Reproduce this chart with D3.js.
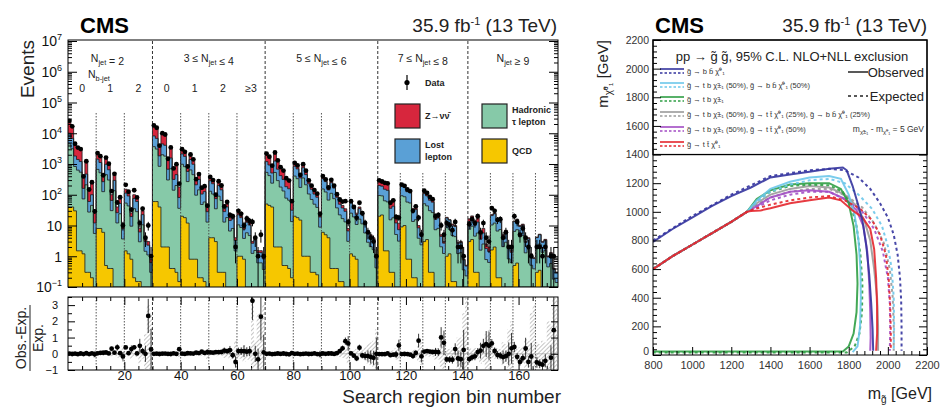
<!DOCTYPE html>
<html><head><meta charset="utf-8">
<script src="https://cdn.jsdelivr.net/npm/d3@7"></script>
<style>
body{margin:0;background:#fff;}
svg{display:block;font-family:"Liberation Sans",Arial,Helvetica,sans-serif;}
</style></head><body>
<svg id="c" width="940" height="407"></svg>
<script>
// ---------- search-region yields (174 bins; rows = N_jet / N_b-jet groups) ----------
const qcd = [
 40,40,30,1.5,1.5,1.2,0.3,0.3,0.2,0.1,
 8,8,6,0.5,0.4,0.4,0.1,0.1,0.1,0.05,
 1.5,1.2,0.8,0.2,0.15,0.15,0.05,0.05,0.05,0.02,
 60,60,40,2,2,2,0.4,0.4,0.3,0.15,
 20,18,12,0.8,0.8,0.8,0.2,0.2,0.15,0.1,
 4,4,3,0.3,0.3,0.3,0.1,0.1,0.1,0.05,
 1,1,0.8,0.1,0.1,0.1,0.04,0.04,0.04,0.02,
 50,45,40,2,2,2,0.5,0.5,0.4,0.2,
 20,18,15,1,1,1,0.3,0.3,0.25,0.1,
 6,5,4,0.4,0.4,0.4,0.15,0.15,0.1,0.05,
 1.2,1,0.8,0.1,0.1,0.1,0.05,0.05,0.04,0.02,
 20,22,1.5,1.5,0.3,0.3,0.1,0.1,
 9,10,0.8,0.8,0.2,0.2,0.05,0.05,
 3,3.5,0.3,0.3,0.08,0.08,0.03,0.03,
 1,1.2,0.15,0.15,0.04,0.04,0.02,0.02,
 3,3.5,0.3,0.3,0.08,0.1,0.03,0.03,
 1.6,2,0.2,0.2,0.05,0.06,0.02,0.02,
 0.5,0.6,0.08,0.08,0.03,0.03,0.01,0.01,
 0.3,0.35,0.05,0.05,0.02,0.02,0.01,0.01
];
const hadTau = [
 4500,3100,800,630,540,72,210,27,45,5.4,
 660,510,120,450,300,30,135,12,24,3.6,
 52,42,8.7,35,28,2.8,10.5,1.4,1.05,0.28,
 3600,3000,800,2000,1800,300,700,140,200,36,
 960,800,256,640,448,96,144,48,58,12.8,
 126,101,32,90,65,12.6,18,6.5,7.9,1.44,
 9.5,7.6,3,5.7,4.6,1.14,1.5,0.57,0.57,0.35,
 484,374,198,528,286,176,132,77,66,13.2,
 385,315,158,350,210,105,70,49,38.5,8.75,
 148,118,63,111,74,37,22,16.6,13,3,
 24,18,10,16,11.2,5.6,2.8,2,1.6,0.4,
 75,70,62,57,15,17.5,5,3,
 84,76,57,53,13.3,15.2,3.8,2.3,
 48,40,30,26,7.2,8,2,1.2,
 7.5,6.3,4.6,4.2,1.18,1.26,0.34,0.21,
 4.5,6,4.2,5.4,1.5,2.4,0.75,0.6,
 8.8,10,6.4,7.2,2,2.8,0.8,0.6,
 5.9,6.7,4.2,4.6,1.26,1.68,0.5,0.38,
 1.72,2.15,1.29,1.5,0.43,0.56,0.17,0.13
];
const lostLep = [
 5500,3700,990,770,660,88,260,33,55,6.6,
 770,600,140,525,350,35,158,14,28,4.2,
 60,48,10,40,32,3.2,12,1.6,1.2,0.32,
 4500,3750,1000,2500,2250,375,875,175,250,45,
 1140,950,304,760,532,114,171,57,68,15.2,
 154,123,39.6,110,79,15.4,22,7.9,9.7,1.76,
 11.75,9.4,3.8,7.05,5.64,1.41,1.88,0.7,0.7,0.45,
 660,510,270,720,390,240,180,105,90,18,
 440,360,180,400,240,120,80,56,44,10,
 180,144,76.5,135,90,45,27,20.3,15.8,3.6,
 28.8,21.6,12,19.2,13.4,6.7,3.36,2.4,1.92,0.48,
 105,98,87.5,80.5,21,24.5,7,4.2,
 99,90,67.5,63,15.75,18,4.5,2.7,
 57.6,48,36,31.2,8.6,9.6,2.4,1.44,
 9,7.5,5.5,5,1.4,1.5,0.4,0.25,
 6,8,5.6,7.2,2,3.2,1,0.8,
 10.6,12,7.7,8.6,2.4,3.4,0.96,0.72,
 7,8,5,5.5,1.5,2,0.6,0.45,
 2,2.5,1.5,1.75,0.5,0.65,0.2,0.15
];
const zinv = [
 15000,10200,2700,2100,1800,240,720,90,150,18,
 760,585,138,525,350,35,157,14,28,4.1,
 37.5,29.6,6.1,24.9,19.9,1.9,7.45,0.95,0.7,0.17,
 9830,8190,2160,5500,4950,820,1920,384,550,98,
 885,738,232,599,419,89,135,45,54,12,
 67,53.5,16.5,49.7,35.7,6.8,9.9,3.5,4.3,0.75,
 3.45,2.7,1.0,2.2,1.71,0.4,0.6,0.21,0.21,0.1,
 996,766,392,1149,621,381,287,167,143,28,
 250,205,97,248,148,73,49,34,27,6,
 64,52,25.5,53.5,35.5,17.5,10.8,7.9,6,1.3,
 6.2,4.6,2.4,4.7,3.3,1.6,0.79,0.55,0.43,0.1,
 100,87,99.5,91,23.7,27.6,7.8,4.6,
 27,22,25,23.2,5.8,6.6,1.6,0.9,
 10.4,7,8.7,7.4,2.1,2.3,0.55,0.31,
 0.9,0.5,0.85,0.74,0.2,0.22,0.05,0.03,
 3,3,4.1,5.2,1.45,2.35,0.72,0.57,
 1.6,1.5,1.85,2.1,0.57,0.77,0.22,0.16,
 0.7,0.7,0.77,0.86,0.23,0.31,0.09,0.06,
 0.18,0.2,0.2,0.24,0.065,0.085,0.027,0.017
];
const observed = [
 25300,16800,4550,3420,3050,395,1230,148,255,29,
 2260,1790,430,1620,1020,132,480,56,83,10,
 210,125,33,140,82,12,35,4,10,1,
 17900,15100,3950,10050,9120,1480,3450,720,990,230,
 3030,2480,830,2040,1420,320,470,170,190,44,
 380,300,100,275,200,42,58,22,20,2,
 30,24,10,17,14,13,4,1,5,1,
 2180,1720,880,2370,1320,790,610,345,290,62,
 1090,905,440,990,605,295,198,142,108,24,
 405,318,172,305,198,104,70,60,62,13,
 62,40,18,55,25,12,6,4,3,1,
 295,270,245,235,55,66,19,18,
 215,195,148,132,30,42,18,5,
 135,115,85,72,20,22,10,5,
 12,10,7,13,2,2,1,0,
 11,16,12,20,6,12,4,3,
 37,30,15,16,4,6,2,2,
 20,13,5,8,4,2,1,0,
 2,2,1,2,0,1,1,0
];
// relative uncertainty of the prediction per bin
const relUnc = [
 0.05,0.05,0.08,0.06,0.06,0.1,0.08,0.15,0.12,0.3,
 0.06,0.06,0.1,0.07,0.08,0.15,0.1,0.25,0.2,0.5,
 0.15,0.15,0.3,0.15,0.2,0.6,0.3,1.2,3,2.5,
 0.05,0.05,0.08,0.05,0.05,0.08,0.07,0.1,0.1,0.2,
 0.06,0.06,0.1,0.07,0.07,0.12,0.1,0.15,0.15,0.3,
 0.1,0.1,0.15,0.1,0.12,0.25,0.2,0.35,0.3,0.8,
 0.3,0.3,0.5,0.35,0.4,3.5,0.8,2.5,2.5,3,
 0.06,0.06,0.08,0.06,0.07,0.08,0.08,0.1,0.1,0.2,
 0.07,0.07,0.1,0.07,0.08,0.1,0.1,0.12,0.15,0.3,
 0.1,0.1,0.12,0.1,0.12,0.15,0.2,0.25,0.3,0.6,
 0.2,0.2,0.3,0.2,0.25,0.4,0.6,0.7,0.8,1.5,
 0.1,0.1,0.1,0.1,0.2,0.2,0.35,0.45,
 0.12,0.12,0.12,0.13,0.25,0.25,0.5,0.7,
 0.15,0.15,0.18,0.18,0.35,0.35,0.8,1.2,
 0.3,0.3,0.4,0.4,1,1,2.5,3.5,
 0.35,0.3,0.35,0.3,0.6,0.5,1.2,1.5,
 0.3,0.3,0.35,0.3,0.7,0.6,1.5,2,
 0.35,0.3,0.4,0.4,0.9,0.8,2.5,3,
 0.7,0.6,0.8,0.7,2,1.8,3.5,4
];
// region boundaries (bin edges) and labels
const njetEdges = [30, 70, 110, 142];
const nbEdgesHigh = [10, 20, 40, 50, 60, 80, 90, 100];
const nbEdgesLow = [118, 126, 134, 150, 158, 166];
const njetLabels = [
 {bin: 14, parts: [["N",0],["jet",1],[" = 2",0]]},
 {bin: 50, parts: [["3 ≤ N",0],["jet",1],[" ≤ 4",0]]},
 {bin: 90, parts: [["5 ≤ N",0],["jet",1],[" ≤ 6",0]]},
 {bin: 126, parts: [["7 ≤ N",0],["jet",1],[" ≤ 8",0]]},
 {bin: 158, parts: [["N",0],["jet",1],[" ≥ 9",0]]}
];
const nbLabels = [["0",5],["1",15],["2",25],["0",35],["1",45],["2",55],["≥3",65]];
const logTicks = [0.1, 1, 10, 1e2, 1e3, 1e4, 1e5, 1e6, 1e7];
const binTicks = [20, 40, 60, 80, 100, 120, 140, 160];
const ratioTicks = [-1, 0, 1, 2, 3];

// ---------- gluino-pair exclusion contours (m_gluino, m_LSP) in GeV ----------
const lowBranch = [[800,600],[900,690],[1000,770],[1100,850],[1200,930],[1280,1000]];
const bbObs = [[800,790],[900,880],[1000,960],[1100,1040],[1200,1110],[1300,1170],[1400,1240],[1500,1260],[1600,1280],[1700,1300],[1770,1310],[1790,1290],[1820,1180],[1850,1040],[1870,940],[1890,760],[1905,560],[1915,360],[1922,180],[1925,30]];
const bbExp = [[800,800],[1000,970],[1200,1120],[1400,1250],[1600,1290],[1700,1300],[1780,1290],[1850,1240],[1910,1160],[1960,1060],[2000,960],[2030,840],[2050,700],[2062,540],[2068,380],[2070,200],[2070,30]];
const tbbbObs = [[1330,1080],[1400,1160],[1500,1210],[1600,1240],[1700,1250],[1760,1230],[1800,1120],[1830,980],[1850,800],[1860,600],[1862,400],[1858,200],[1845,60],[1820,20]];
const tbbbExp = [[1330,1070],[1400,1140],[1500,1190],[1600,1220],[1700,1230],[1780,1200],[1850,1120],[1920,1020],[1970,900],[2000,760],[2020,600],[2030,400],[2032,200],[2030,30]];
const tbObs = [[1330,1090],[1400,1150],[1500,1190],[1600,1200],[1700,1200],[1760,1160],[1800,1060],[1825,900],[1840,700],[1845,500],[1840,300],[1825,150],[1800,60],[1770,25],[800,25]];
const tbExp = [[1330,1080],[1400,1140],[1500,1180],[1600,1190],[1700,1185],[1770,1140],[1810,1050],[1840,900],[1860,700],[1870,500],[1868,300],[1855,150],[1830,60],[1790,18],[800,18]];
const mixObs = [[1330,1060],[1400,1120],[1500,1160],[1600,1180],[1700,1170],[1780,1120],[1840,1040],[1880,940],[1910,800],[1930,600],[1945,400],[1950,200],[1950,30]];
const mixExp = [[1330,1050],[1400,1100],[1500,1140],[1600,1160],[1700,1160],[1790,1110],[1870,1030],[1930,920],[1980,780],[2010,600],[2025,400],[2030,200],[2030,30]];
const tbttObs = [[1330,1040],[1400,1100],[1500,1140],[1600,1150],[1700,1140],[1780,1090],[1840,1010],[1875,900],[1895,720],[1905,500],[1910,300],[1912,120],[1910,30]];
const tbttExp = [[1330,1030],[1400,1080],[1500,1120],[1600,1140],[1700,1140],[1790,1080],[1870,1000],[1930,880],[1975,720],[2000,540],[2010,360],[2012,180],[2010,30]];
const ttObs = [[1300,1005],[1350,1010],[1400,1025],[1500,1060],[1600,1080],[1700,1100],[1760,1080],[1820,1010],[1870,960],[1910,880],[1930,740],[1940,540],[1945,340],[1945,150],[1940,30]];
const ttExp = [[1320,1020],[1400,1050],[1500,1080],[1600,1100],[1700,1110],[1780,1080],[1860,1020],[1920,940],[1960,840],[1990,700],[2005,520],[2012,340],[2015,160],[2015,30]];
const modelLabels = [
 "g̃ → b b̄ χ̃⁰₁",
 "g̃ → t b χ̃±₁ (50%), g̃ → b b̄ χ̃⁰₁ (50%)",
 "g̃ → t b χ̃±₁",
 "g̃ → t b χ̃±₁ (50%), g̃ → t t̄ χ̃⁰₁ (25%), g̃ → b b̄ χ̃⁰₁ (25%)",
 "g̃ → t b χ̃±₁ (50%), g̃ → t t̄ χ̃⁰₁ (50%)",
 "g̃ → t t̄ χ̃⁰₁"
];
const modelColors = ["#34349e", "#6cc7ea", "#2f9e44", "#9a9a9a", "#a24cc4", "#e4262c"];
const mgTicks = [800, 1000, 1200, 1400, 1600, 1800, 2000, 2200];
const mlspTicks = [0, 200, 400, 600, 800, 1000, 1200, 1400, 1600, 1800, 2000, 2200];

// ======================================================================
const svg = d3.select("#c");
const nBins = qcd.length;
const defs = svg.append("defs");
defs.append("clipPath").attr("id","clipMain").append("rect").attr("x",68).attr("y",40).attr("width",490).attr("height",247);
defs.append("clipPath").attr("id","clipRatio").append("rect").attr("x",68).attr("y",297).attr("width",490).attr("height",73);
defs.append("clipPath").attr("id","clipR").append("rect").attr("x",653).attr("y",40).attr("width",274).attr("height",315);
const hatch = defs.append("pattern").attr("id","hatch").attr("width",3).attr("height",3)
  .attr("patternUnits","userSpaceOnUse").attr("patternTransform","rotate(45)");
hatch.append("line").attr("x1",0).attr("y1",0).attr("x2",0).attr("y2",3).attr("stroke","#9a9a9a").attr("stroke-width",1.2);

const x = d3.scaleLinear().domain([0, nBins]).range([68, 558]);
const y = d3.scaleLog().domain([0.1, 1e7]).range([287, 41]);
const yr = d3.scaleLinear().domain([-1, 3.5]).range([370, 297]);

const layers = [
 {name: "QCD", vals: qcd, color: "#f6c700"},
 {name: "Hadronic τ lepton", vals: hadTau, color: "#86c9a8"},
 {name: "Lost lepton", vals: lostLep, color: "#5aa0d6"},
 {name: "Z→νν̄", vals: zinv, color: "#d7263d"}
];
const cum = [];
let run = new Array(nBins).fill(0);
layers.forEach(L => { run = run.map((v, i) => v + L.vals[i]); cum.push(run); });
const expected = cum[cum.length - 1];

const floorV = 0.1;
const stepPts = vals => { const p = vals.map((v, i) => [i, v]); p.push([nBins, vals[nBins - 1]]); return p; };
const stepArea = d3.area().curve(d3.curveStepAfter)
  .x(d => x(d[0])).y0(y(floorV)).y1(d => y(Math.max(d[1], floorV)));
const stepLine = d3.line().curve(d3.curveStepAfter)
  .x(d => x(d[0])).y(d => y(Math.max(d[1], floorV)));

const main = svg.append("g").attr("clip-path","url(#clipMain)");
for (let k = layers.length - 1; k >= 0; k--) {
  main.append("path").attr("d", stepArea(stepPts(cum[k]))).attr("fill", layers[k].color);
}
for (let k = layers.length - 1; k >= 0; k--) {
  main.append("path").attr("d", stepLine(stepPts(cum[k]))).attr("fill","none")
    .attr("stroke","#1b1b1b").attr("stroke-width",0.8);
}

// separators
const sep = svg.append("g");
njetEdges.forEach(b => {
  [[41,287],[297,370]].forEach(([a, c]) => sep.append("line").attr("x1",x(b)).attr("x2",x(b)).attr("y1",a).attr("y2",c)
    .attr("stroke","#333").attr("stroke-width",1).attr("stroke-dasharray","3,2"));
});
nbEdgesHigh.forEach(b => {
  [[113,287],[297,370]].forEach(([a, c]) => sep.append("line").attr("x1",x(b)).attr("x2",x(b)).attr("y1",a).attr("y2",c)
    .attr("stroke","#444").attr("stroke-width",0.9).attr("stroke-dasharray","1.5,1.5"));
});
nbEdgesLow.forEach(b => {
  [[173,287],[297,370]].forEach(([a, c]) => sep.append("line").attr("x1",x(b)).attr("x2",x(b)).attr("y1",a).attr("y2",c)
    .attr("stroke","#444").attr("stroke-width",0.9).attr("stroke-dasharray","1.5,1.5"));
});

// data points
const pts = svg.append("g").attr("clip-path","url(#clipMain)");
observed.forEach((n, i) => {
  if (n <= 0) return;
  const cx = x(i + 0.5), e = Math.sqrt(n);
  pts.append("line").attr("x1",cx).attr("x2",cx).attr("y1",y(n + e)).attr("y2",y(Math.max(n - e, floorV)))
    .attr("stroke","#000").attr("stroke-width",1);
  pts.append("circle").attr("cx",cx).attr("cy",y(n)).attr("r",2.4).attr("fill","#000");
});

// frames
svg.append("rect").attr("x",68).attr("y",40).attr("width",490).attr("height",247).attr("fill","none").attr("stroke","#000").attr("stroke-width",1);
svg.append("rect").attr("x",68).attr("y",297).attr("width",490).attr("height",73).attr("fill","none").attr("stroke","#000").attr("stroke-width",1);

// log y axis
const minorLog = [];
for (let e = -1; e < 7; e++) for (let m = 2; m <= 9; m++) minorLog.push(m * Math.pow(10, e));
const supFmt = v => { const e = Math.round(Math.log10(v)); return e === 0 ? "1" : e === 1 ? "10" : "10^" + (e < 0 ? "−" + (-e) : e); };
const yAx = svg.append("g").attr("transform","translate(68,0)")
  .call(d3.axisLeft(y).tickValues(logTicks).tickSizeInner(-9).tickSizeOuter(0).tickPadding(16).tickFormat(supFmt));
yAx.select(".domain").remove();
yAx.selectAll("text").attr("font-size",14).attr("fill","#111")
  .each(function(){ const t = d3.select(this); const s = t.text(); if (s.indexOf("^") > 0) {
    const [b, e] = s.split("^"); t.text(null); t.append("tspan").text(b); t.append("tspan").attr("dy",-6).attr("font-size",9).text(e); } })
  .attr("x", -6).attr("dy","0.35em");
svg.append("g").attr("transform","translate(68,0)")
  .call(d3.axisLeft(y).tickValues(minorLog).tickSizeInner(-4).tickSizeOuter(0).tickFormat(""))
  .select(".domain").remove();
svg.append("g").attr("transform","translate(558,0)")
  .call(d3.axisRight(y).tickValues(logTicks).tickSizeInner(-9).tickSizeOuter(0).tickFormat(""))
  .select(".domain").remove();
svg.append("g").attr("transform","translate(558,0)")
  .call(d3.axisRight(y).tickValues(minorLog).tickSizeInner(-4).tickSizeOuter(0).tickFormat(""))
  .select(".domain").remove();

// x ticks on both panels
const minorBins = d3.range(5, nBins, 5).filter(v => v % 20 !== 0);
[[287, 0], [297, 1], [370, 0]].forEach(([yy, top]) => {
  const axMaj = top ? d3.axisTop(x) : d3.axisBottom(x);
  const axMin = top ? d3.axisTop(x) : d3.axisBottom(x);
  const g1 = svg.append("g").attr("transform", `translate(0,${yy})`)
    .call(axMaj.tickValues(binTicks).tickSizeInner(-8).tickSizeOuter(0).tickPadding(1).tickFormat(yy === 370 ? d3.format("d") : ""));
  g1.select(".domain").remove();
  g1.selectAll("text").attr("font-size",13).attr("fill","#111");
  svg.append("g").attr("transform", `translate(0,${yy})`)
    .call(axMin.tickValues(minorBins).tickSizeInner(-4).tickSizeOuter(0).tickFormat(""))
    .select(".domain").remove();
});

// ratio panel
const ratioG = svg.append("g").attr("clip-path","url(#clipRatio)");
relUnc.forEach((u, i) => {
  ratioG.append("rect").attr("x", x(i)).attr("width", x(i + 1) - x(i))
    .attr("y", yr(u)).attr("height", yr(-u) - yr(u)).attr("fill","url(#hatch)");
});
ratioG.append("line").attr("x1",68).attr("x2",558).attr("y1",yr(0)).attr("y2",yr(0)).attr("stroke","#999").attr("stroke-width",0.6);
observed.forEach((n, i) => {
  if (n <= 0) return;
  const ex = expected[i], r = (n - ex) / ex, er = Math.sqrt(n) / ex, cx = x(i + 0.5);
  ratioG.append("line").attr("x1",cx).attr("x2",cx).attr("y1",yr(r + er)).attr("y2",yr(r - er))
    .attr("stroke","#222").attr("stroke-width",0.9);
  ratioG.append("circle").attr("cx",cx).attr("cy",yr(r)).attr("r",2.4).attr("fill","#000");
});
const yrAx = svg.append("g").attr("transform","translate(68,0)")
  .call(d3.axisLeft(yr).tickValues(ratioTicks).tickSizeInner(-7).tickSizeOuter(0).tickPadding(10).tickFormat(d3.format("d")));
yrAx.select(".domain").remove();
yrAx.selectAll("text").attr("font-size",11).attr("fill","#111");
svg.append("g").attr("transform","translate(68,0)")
  .call(d3.axisLeft(yr).tickValues([-0.5,0.5,1.5,2.5,3.5]).tickSizeInner(-4).tickSizeOuter(0).tickFormat(""))
  .select(".domain").remove();
svg.append("g").attr("transform","translate(558,0)")
  .call(d3.axisRight(yr).tickValues(ratioTicks).tickSizeInner(-7).tickSizeOuter(0).tickFormat(""))
  .select(".domain").remove();

// labels in the histogram
const addParts = (sel, parts, base) => {
  parts.forEach(([t, sub]) => {
    sel.append("tspan").attr("font-size", sub ? base * 0.7 : base).attr("dy", sub === 1 ? 3 : 0).text(t);
    if (sub) sel.append("tspan").attr("dy", -3).text("");
  });
};
njetLabels.forEach(L => {
  const t = svg.append("text").attr("x", x(L.bin)).attr("y", 62).attr("text-anchor","middle").attr("fill","#222");
  addParts(t, L.parts, 10.5);
});
const nbT = svg.append("text").attr("x", 88).attr("y", 78).attr("fill","#222");
addParts(nbT, [["N",0],["b-jet",1]], 10.5);
nbLabels.forEach(([t, b]) => svg.append("text").attr("x", x(b)).attr("y", 92).attr("text-anchor","middle")
  .attr("font-size",10.5).attr("fill","#222").text(t));

// histogram legend
const leg = svg.append("g").attr("font-size",9).attr("font-weight","bold").attr("fill","#222");
leg.append("line").attr("x1",407).attr("x2",407).attr("y1",75).attr("y2",90).attr("stroke","#000").attr("stroke-width",1.2);
leg.append("circle").attr("cx",407).attr("cy",82.5).attr("r",2.6).attr("fill","#000");
leg.append("text").attr("x",425).attr("y",86).text("Data");
const legBoxes = [
 {layer: 3, x: 395, y: 104, lines: ["Z→νν̄"]},
 {layer: 1, x: 482, y: 104, lines: ["Hadronic", "τ lepton"]},
 {layer: 2, x: 395, y: 139, lines: ["Lost", "lepton"]},
 {layer: 0, x: 482, y: 139, lines: ["QCD"]}
];
legBoxes.forEach(b => {
  leg.append("rect").attr("x", b.x).attr("y", b.y).attr("width",25).attr("height",24)
    .attr("fill", layers[b.layer].color).attr("stroke","#222").attr("stroke-width",1.2);
  b.lines.forEach((s, j) => leg.append("text").attr("x", b.x + 30)
    .attr("y", b.y + 15 + (j - (b.lines.length - 1) / 2) * 12).text(s));
});

// titles, left
svg.append("text").attr("x",80).attr("y",33).attr("font-size",22).attr("font-weight","bold").text("CMS");
const lumiL = svg.append("text").attr("x",557).attr("y",32).attr("font-size",19).attr("text-anchor","end").attr("fill","#222");
lumiL.append("tspan").text("35.9 fb");
lumiL.append("tspan").attr("dy",-7).attr("font-size",11).text("-1");
lumiL.append("tspan").attr("dy",7).text(" (13 TeV)");
svg.append("text").attr("transform","translate(34,40) rotate(-90)").attr("text-anchor","end")
  .attr("font-size",19).attr("fill","#222").text("Events");
const rt = svg.append("g").attr("transform","translate(28,338) rotate(-90)").attr("fill","#222");
rt.append("text").attr("x",0).attr("y",-2).attr("text-anchor","middle").attr("font-size",14).text("Obs.-Exp.");
rt.append("line").attr("x1",-33).attr("x2",33).attr("y1",2).attr("y2",2).attr("stroke","#222").attr("stroke-width",1);
rt.append("text").attr("x",0).attr("y",15).attr("text-anchor","middle").attr("font-size",14).text("Exp.");
svg.append("text").attr("x",561).attr("y",403).attr("text-anchor","end").attr("font-size",19).attr("fill","#222")
  .text("Search region bin number");

// ======================================================================
// right: exclusion limits
const xR = d3.scaleLinear().domain([800, 2200]).range([653, 927]);
const yR = d3.scaleLinear().domain([0, 2200]).range([355, 40]);
const contour = d3.line().x(d => xR(d[0])).y(d => yR(d[1]));
const models = [
 {obs: bbObs, exp: bbExp, low: false},
 {obs: tbbbObs, exp: tbbbExp, low: true},
 {obs: tbObs, exp: tbExp, low: true},
 {obs: mixObs, exp: mixExp, low: true},
 {obs: tbttObs, exp: tbttExp, low: true},
 {obs: ttObs, exp: ttExp, low: true}
];
const rg = svg.append("g").attr("clip-path","url(#clipR)");
const drawOrder = [3, 4, 2, 1, 5, 0];
drawOrder.forEach(k => {
  const m = models[k], c = modelColors[k];
  const e = m.low ? lowBranch.concat(m.exp) : m.exp;
  const o = m.low ? lowBranch.concat(m.obs) : m.obs;
  rg.append("path").attr("d", contour(e)).attr("fill","none").attr("stroke", c)
    .attr("stroke-width",2).attr("stroke-dasharray","3,3").attr("opacity",0.9);
  rg.append("path").attr("d", contour(o)).attr("fill","none").attr("stroke", c)
    .attr("stroke-width",2).attr("opacity",0.9);
});

// legend box
svg.append("rect").attr("x",653).attr("y",40).attr("width",274).attr("height",yR(1400) - 40)
  .attr("fill","#fff").attr("stroke","#000").attr("stroke-width",1.3);
svg.append("text").attr("x",792).attr("y",61).attr("text-anchor","middle").attr("font-size",13).attr("fill","#222")
  .text("pp → g̃ g̃, 95% C.L. NLO+NLL exclusion");
const rowY = [71, 85, 99, 114, 129, 144];
modelLabels.forEach((s, k) => {
  const cy = rowY[k];
  svg.append("line").attr("x1",660).attr("x2",684).attr("y1",cy - 2).attr("y2",cy - 2).attr("stroke",modelColors[k]).attr("stroke-width",1.6);
  svg.append("line").attr("x1",660).attr("x2",684).attr("y1",cy + 2).attr("y2",cy + 2).attr("stroke",modelColors[k]).attr("stroke-width",1.6).attr("stroke-dasharray","2.5,2");
  svg.append("text").attr("x",687).attr("y",cy + 3).attr("font-size",7.5).attr("fill","#333").text(s);
});
svg.append("line").attr("x1",848).attr("x2",868).attr("y1",72).attr("y2",72).attr("stroke","#222").attr("stroke-width",1.5);
svg.append("text").attr("x",924).attr("y",77).attr("text-anchor","end").attr("font-size",13).attr("fill","#222").text("Observed");
svg.append("line").attr("x1",848).attr("x2",868).attr("y1",96).attr("y2",96).attr("stroke","#222").attr("stroke-width",1.5).attr("stroke-dasharray","3,3");
svg.append("text").attr("x",924).attr("y",101).attr("text-anchor","end").attr("font-size",13).attr("fill","#222").text("Expected");
const dm = svg.append("text").attr("x",924).attr("y",132).attr("text-anchor","end").attr("font-size",8.5).attr("fill","#333");
dm.append("tspan").text("m");
dm.append("tspan").attr("font-size",6).attr("dy",2).text("χ̃±₁");
dm.append("tspan").attr("dy",-2).text(" - m");
dm.append("tspan").attr("font-size",6).attr("dy",2).text("χ̃⁰₁");
dm.append("tspan").attr("dy",-2).text(" = 5 GeV");

// frame and axes
svg.append("rect").attr("x",653).attr("y",40).attr("width",274).attr("height",315).attr("fill","none").attr("stroke","#000").attr("stroke-width",1);
const mgMinor = d3.range(840, 2200, 40).filter(v => v % 200 !== 0);
const mlMinor = d3.range(40, 2200, 40).filter(v => v % 200 !== 0);
const xRAx = svg.append("g").attr("transform","translate(0,355)")
  .call(d3.axisBottom(xR).tickValues(mgTicks).tickSizeInner(-8).tickSizeOuter(0).tickPadding(6).tickFormat(d3.format("d")));
xRAx.select(".domain").remove();
xRAx.selectAll("text").attr("font-size",11).attr("fill","#333");
svg.append("g").attr("transform","translate(0,355)")
  .call(d3.axisBottom(xR).tickValues(mgMinor).tickSizeInner(-4).tickSizeOuter(0).tickFormat("")).select(".domain").remove();
const yRAx = svg.append("g").attr("transform","translate(653,0)")
  .call(d3.axisLeft(yR).tickValues(mlspTicks).tickSizeInner(-8).tickSizeOuter(0).tickPadding(4).tickFormat(d3.format("d")));
yRAx.select(".domain").remove();
yRAx.selectAll("text").attr("font-size",10.5).attr("fill","#333");
yRAx.selectAll(".tick").filter(d => d === 0).select("text").attr("dy","-0.05em");
svg.append("g").attr("transform","translate(653,0)")
  .call(d3.axisLeft(yR).tickValues(mlMinor).tickSizeInner(-4).tickSizeOuter(0).tickFormat("")).select(".domain").remove();
svg.append("g").attr("transform","translate(927,0)")
  .call(d3.axisRight(yR).tickValues(mlspTicks.filter(v => v <= 1400)).tickSizeInner(-8).tickSizeOuter(0).tickFormat("")).select(".domain").remove();
svg.append("g").attr("transform","translate(927,0)")
  .call(d3.axisRight(yR).tickValues(mlMinor.filter(v => v < 1400)).tickSizeInner(-4).tickSizeOuter(0).tickFormat("")).select(".domain").remove();
svg.selectAll(".tick line").attr("stroke","#000");

// titles, right
svg.append("text").attr("x",655).attr("y",33).attr("font-size",22).attr("font-weight","bold").text("CMS");
const lumiR = svg.append("text").attr("x",927).attr("y",32).attr("font-size",19).attr("text-anchor","end").attr("fill","#222");
lumiR.append("tspan").text("35.9 fb");
lumiR.append("tspan").attr("dy",-7).attr("font-size",11).text("-1");
lumiR.append("tspan").attr("dy",7).text(" (13 TeV)");
const yTitle = svg.append("text").attr("transform","translate(608,40) rotate(-90)").attr("text-anchor","end")
  .attr("font-size",15).attr("fill","#222");
yTitle.append("tspan").text("m");
yTitle.append("tspan").attr("font-size",10).attr("dy",4).text("χ̃⁰₁");
yTitle.append("tspan").attr("dy",-4).text(" [GeV]");
const xTitle = svg.append("text").attr("x",932).attr("y",399).attr("text-anchor","end").attr("font-size",16).attr("fill","#222");
xTitle.append("tspan").text("m");
xTitle.append("tspan").attr("font-size",10).attr("dy",4).text("g̃");
xTitle.append("tspan").attr("dy",-4).text(" [GeV]");
</script>
</body></html>
